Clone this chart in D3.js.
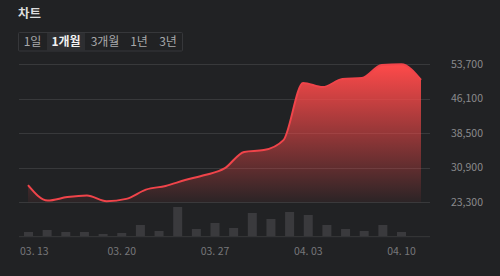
<!DOCTYPE html>
<html><head><meta charset="utf-8">
<script src="https://cdn.jsdelivr.net/npm/d3@7/dist/d3.min.js"></script>
<style>
html,body{margin:0;padding:0;background:#212224;}
svg{display:block;font-family:"Noto Sans CJK KR","Noto Sans",sans-serif;}
</style></head>
<body><svg id="c" width="500" height="276"></svg>
<script>
const dates = ["03. 13","03. 14","03. 15","03. 16","03. 17","03. 20","03. 21","03. 22","03. 23","03. 24",
  "03. 27","03. 28","03. 29","03. 30","03. 31","04. 03","04. 04","04. 05","04. 06","04. 07","04. 10"];
const prices = [27100,23700,24450,24800,23550,24050,26100,26900,28200,29300,
  30750,34400,34800,37000,49600,48700,50450,50700,53550,53700,50250];
const volumes = [47,67,47,47,27,37,117,57,297,77,137,87,237,177,247,217,117,77,57,117,47];
const yTicks = [23300,30900,38500,46100,53700];
const xTickDates = ["03. 13","03. 20","03. 27","04. 03","04. 10"];
const periods = ["1일","1개월","3개월","1년","3년"];
const selectedPeriod = "1개월";

const svg = d3.select("#c");
const bg = "#212224";

// header
svg.append("text").attr("x",18).attr("y",18).attr("fill","#dcdcdc")
  .attr("font-size",12.5).attr("font-weight",700).text("차트");

// period buttons
const btnX = [18,47,85,125,153,183];
svg.append("rect").attr("x",18.5).attr("y",32.5).attr("width",164).attr("height",18.5)
  .attr("fill","none").attr("stroke","#36373a").attr("rx",1);
periods.forEach((p,i)=>{
  const sel = p===selectedPeriod;
  if(sel) svg.append("rect").attr("x",btnX[i]).attr("y",33).attr("width",btnX[i+1]-btnX[i]).attr("height",18)
    .attr("fill","#2d2e31");
  svg.append("text").attr("x",(btnX[i]+btnX[i+1])/2).attr("y",46.3).attr("text-anchor","middle")
    .attr("font-size",12).attr("font-weight",sel?700:400).attr("fill",sel?"#f0f0f0":"#a8a8aa").text(p);
});

// scales
const y = d3.scaleLinear().domain([23300,53700]).range([202.3,64.3]);
const xLine = d3.scalePoint().domain(dates).range([28,421]);
const xBar = d3.scalePoint().domain(dates).range([28.5,401.5]);
const yVol = d3.scaleLinear().domain([0,d3.max(volumes)]).range([236.7,207]);

// grid
const grid = svg.append("g");
yTicks.forEach(t=>{
  grid.append("line").attr("x1",19).attr("x2",430).attr("y1",Math.round(y(t))+0.5).attr("y2",Math.round(y(t))+0.5)
    .attr("stroke","#38393b").attr("stroke-width",1);
  svg.append("text").attr("x",483).attr("y",y(t)).attr("dy","0.35em").attr("text-anchor","end")
    .attr("font-size",10.5).attr("fill","#8a8a8c").text(d3.format(",")(t));
});

// gradient
const defs = svg.append("defs");
const grad = defs.append("linearGradient").attr("id","g").attr("gradientUnits","userSpaceOnUse")
  .attr("x1",0).attr("x2",0).attr("y1",64).attr("y2",202);
grad.append("stop").attr("offset","0%").attr("stop-color","#ff4a4a").attr("stop-opacity",1);
grad.append("stop").attr("offset","100%").attr("stop-color","#ff4a4a").attr("stop-opacity",0.05);

const data = dates.map((d,i)=>({d,v:prices[i]}));
const area = d3.area().x(d=>xLine(d.d)).y0(202.3).y1(d=>y(d.v)).curve(d3.curveMonotoneX);
const line = d3.line().x(d=>xLine(d.d)).y(d=>y(d.v)).curve(d3.curveMonotoneX);
svg.append("path").datum(data).attr("d",area).attr("fill","url(#g)");
svg.append("path").datum(data).attr("d",line).attr("fill","none").attr("stroke","#f0444a").attr("stroke-width",2);

// volume
svg.append("line").attr("x1",19).attr("x2",430).attr("y1",236.7).attr("y2",236.7).attr("stroke","#38393b");
svg.selectAll("rect.v").data(volumes).enter().append("rect").attr("class","v")
  .attr("x",(v,i)=>xBar(dates[i])-4.5).attr("width",9)
  .attr("y",v=>yVol(v)).attr("height",v=>236.2-yVol(v)).attr("fill","#3a3a3d");

// x labels
xTickDates.forEach(d=>{
  let cx = xBar(d);
  const t = svg.append("text").attr("y",255).attr("font-size",10.5).attr("fill","#77777a").text(d);
  const w = t.node().getComputedTextLength();
  let left = Math.max(20, cx - w/2);
  t.attr("x",left);
});
</script></body></html>
